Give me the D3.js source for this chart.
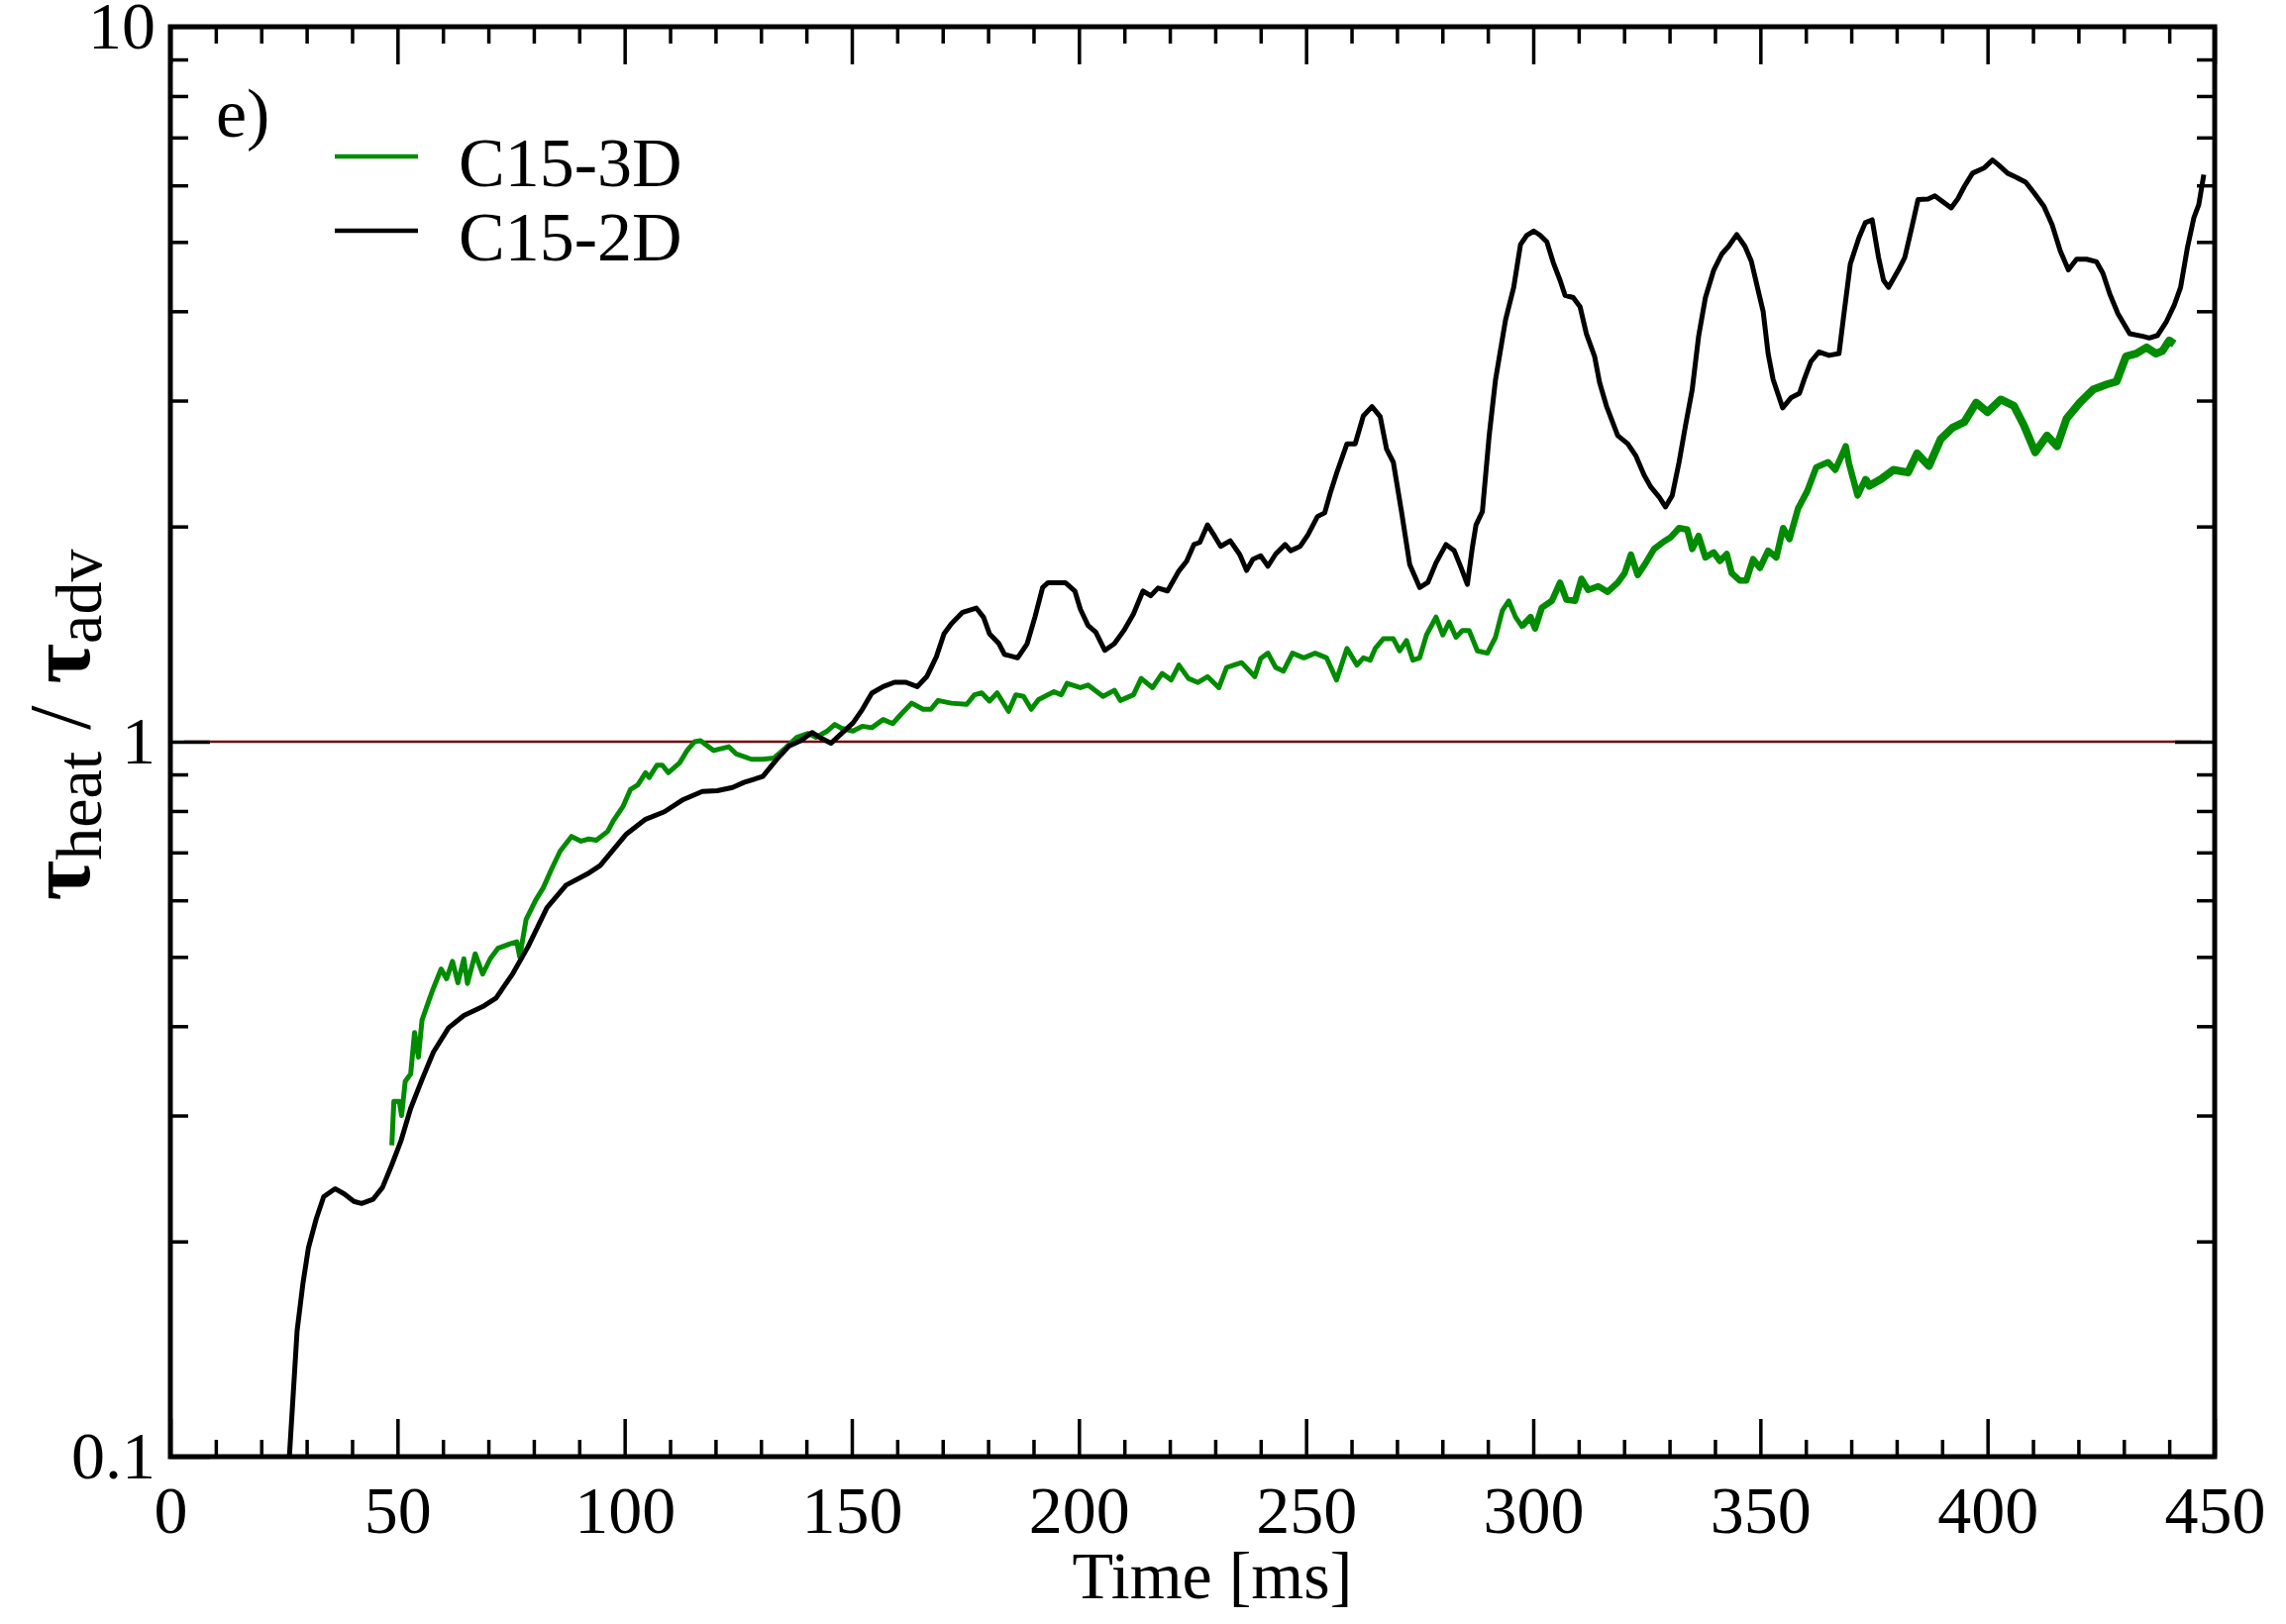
<!DOCTYPE html>
<html>
<head>
<meta charset="utf-8">
<script src="https://cdn.jsdelivr.net/npm/d3@7"></script>
<style>
  body { margin: 0; background: #fff; }
  svg text { font-family: "Liberation Serif", "Times New Roman", serif; fill: #000; }
</style>
</head>
<body>
<div id="chart"></div>
<script>
// tau_heat / tau_adv vs time, C15 models

// C15-2D (black)
const time2D = [26.2, 27.9, 29.2, 30.4, 32.1, 33.75, 36.25, 38.3, 40.4, 42.1, 44.6, 46.7, 48.75, 50.8, 52.9, 55.4, 57.9, 61.25, 64.6, 68.75,
  71.7, 75.4, 78.75, 82.9, 87.1, 92.1, 94.6, 100.4, 104.6, 108.75, 112.9, 117.1, 120.4, 123.75, 126.25, 130.4, 133.75, 136.25, 138.75, 141.25,
  143.3, 145.4, 147.75, 150.25, 152.3, 154.4, 156.9, 159.4, 161.9, 164.4, 166.5, 168.6, 170.3, 171.9, 174.4, 177.4, 179.0, 180.3, 182.4, 183.6,
  186.5, 188.6, 190.3, 192.0, 193.2, 197.0, 199.1, 200.3, 202.0, 203.7, 205.7, 207.8, 209.9, 212.0, 214.1, 215.8, 217.4, 219.5, 222.0, 223.7,
  225.3, 226.6, 228.3, 229.9, 231.2, 233.3, 235.4, 236.9, 238.3, 240.0, 241.6, 243.3, 245.4, 246.6, 248.7, 250.4, 252.5, 254.1, 255.4, 256.8,
  259.0, 260.8, 262.6, 264.5, 266.3, 267.7, 269.2, 271.0, 272.8, 275.0, 276.8, 278.6, 280.8, 282.6, 284.1, 285.5, 286.6, 287.4, 288.8, 290.3,
  291.7, 293.9, 295.7, 297.2, 298.6, 300.1, 301.5, 303.0, 304.4, 305.9, 307.0, 308.8, 310.3, 311.7, 313.5, 314.6, 316.1, 318.6, 320.8, 322.6,
  324.4, 325.9, 327.7, 329.1, 330.6, 332.1, 333.5, 335.0, 336.4, 337.9, 339.7, 341.5, 343.0, 344.8, 346.6, 348.0, 349.5, 350.6, 351.7, 352.8,
  354.9, 356.8, 358.6, 359.7, 361.1, 362.9, 365.1, 367.3, 368.4, 369.8, 371.7, 373.1, 374.6, 376.0, 377.1, 378.2, 380.4, 381.8, 383.3, 384.7,
  386.9, 388.4, 389.5, 392.0, 393.5, 394.9, 396.7, 399.3, 401.1, 402.5, 404.4, 406.5, 408.4, 410.2, 412.4, 414.2, 416.0, 417.8, 419.6, 421.8,
  424.0, 425.4, 426.9, 428.7, 431.3, 434.2, 435.6, 437.4, 439.3, 441.1, 442.5, 444.0, 445.4, 446.5, 447.6];
const ratio2D = [0.1, 0.150, 0.175, 0.196, 0.215, 0.231, 0.237, 0.233, 0.2275, 0.226, 0.229, 0.238, 0.256, 0.277, 0.307, 0.337, 0.368, 0.398, 0.414, 0.426,
  0.438, 0.474, 0.517, 0.586, 0.630, 0.655, 0.671, 0.743, 0.779, 0.798, 0.830, 0.852, 0.854, 0.863, 0.877, 0.894, 0.949, 0.987, 1.003, 1.03,
  1.011, 0.995, 1.027, 1.062, 1.109, 1.169, 1.194, 1.211, 1.211, 1.194, 1.233, 1.314, 1.416, 1.462, 1.517, 1.538, 1.493, 1.416, 1.371, 1.325,
  1.310, 1.371, 1.493, 1.643, 1.669, 1.669, 1.625, 1.533, 1.454, 1.423, 1.342, 1.371, 1.431, 1.509, 1.625, 1.600, 1.64, 1.625, 1.733, 1.788,
  1.887, 1.90, 2.01, 1.937, 1.876, 1.91, 1.827, 1.736, 1.80, 1.82, 1.76, 1.83, 1.887, 1.85, 1.876, 1.947, 2.065, 2.09, 2.236, 2.383,
  2.61, 2.61, 2.856, 2.942, 2.85, 2.568, 2.46, 2.098, 1.77, 1.643, 1.67, 1.779, 1.887, 1.85, 1.752, 1.66, 1.87, 2.01, 2.098, 2.68,
  3.21, 3.89, 4.32, 4.96, 5.11, 5.18, 5.11, 5.0, 4.68, 4.42, 4.21, 4.18, 4.06, 3.72, 3.46, 3.18, 2.95, 2.68, 2.61, 2.51,
  2.36, 2.27, 2.2, 2.13, 2.21, 2.46, 2.765, 3.11, 3.69, 4.18, 4.56, 4.81, 4.93, 5.12, 4.93, 4.7, 4.28, 4.0, 3.49, 3.21,
  2.93, 3.03, 3.07, 3.22, 3.40, 3.51, 3.47, 3.49, 3.97, 4.66, 5.07, 5.32, 5.37, 4.76, 4.42, 4.32, 4.57, 4.76, 5.23, 5.73,
  5.74, 5.80, 5.73, 5.58, 5.75, 5.98, 6.24, 6.35, 6.51, 6.4, 6.24, 6.15, 6.06, 5.86, 5.61, 5.29, 4.86, 4.57, 4.73, 4.73,
  4.69, 4.52, 4.23, 3.97, 3.72, 3.69, 3.67, 3.70, 3.86, 4.08, 4.32, 4.91, 5.4, 5.64, 6.21];

// C15-3D (green)
const time3D = [48.75, 49.2, 50.4, 50.9, 51.7, 52.9, 53.75, 54.6, 55.4, 57.1, 57.9, 59.6, 60.8, 62.1, 63.3, 64.6, 65.4, 67.1, 68.75, 70.4,
  72.1, 74.6, 76.25, 76.9, 78.3, 80.4, 82.1, 83.75, 85.8, 88.3, 90.4, 92.1, 93.75, 96.25, 97.5, 99.6, 101.25, 102.9, 104.6, 105.4,
  107.1, 108.3, 109.6, 112.1, 113.75, 115.4, 116.7, 119.6, 122.9, 124.6, 127.9, 130.4, 132.9, 135.4, 137.9, 140.4, 142.1, 144.6, 146.25, 147.75,
  150.25, 152.3, 154.4, 156.9, 159.0, 161.1, 163.2, 165.7, 167.4, 169.0, 171.9, 175.3, 177.0, 178.6, 180.3, 182.0, 184.5, 186.1, 187.8, 189.5,
  191.1, 194.5, 196.1, 197.4, 200.3, 202.0, 205.3, 207.8, 209.1, 212.0, 213.7, 216.2, 218.3, 220.3, 222.0, 224.1, 226.2, 228.3, 230.8, 232.5,
  234.1, 235.8, 238.7, 240.0, 241.6, 243.3, 245.0, 247.0, 249.5, 252.0, 254.5, 256.7, 259.0, 261.2, 262.6, 264.1, 265.2, 267.0, 269.2, 270.6,
  272.1, 273.5, 275.0, 276.5, 278.6, 280.1, 281.5, 283.0, 284.4, 285.9, 287.7, 289.9, 291.7, 293.2, 294.6, 296.1, 297.5, 299.4, 300.4, 301.9,
  304.1, 305.9, 307.3, 309.2, 310.6, 312.1, 314.3, 316.4, 318.6, 320.1, 321.5, 323.0, 324.8, 326.6, 328.8, 330.2, 332.1, 333.9, 335.0, 336.4,
  337.9, 339.7, 341.1, 342.6, 343.7, 345.5, 346.9, 348.4, 349.9, 351.7, 353.5, 355.0, 356.4, 358.3, 360.3, 362.3, 364.9, 366.5, 368.8, 369.5,
  371.4, 373.1, 374.0, 376.6, 379.3, 382.5, 384.5, 387.1, 389.7, 392.3, 394.9, 397.5, 400.0, 402.9, 405.8, 408.0, 410.5, 413.1, 415.3, 417.4,
  420.3, 423.3, 426.2, 428.4, 430.5, 432.7, 435.0, 437.1, 438.5, 440.0, 441.1];
const ratio3D = [0.2725, 0.314, 0.314, 0.30, 0.335, 0.343, 0.392, 0.362, 0.408, 0.438, 0.452, 0.481, 0.466, 0.493, 0.46, 0.497, 0.459, 0.505, 0.473, 0.497,
  0.514, 0.521, 0.525, 0.500, 0.564, 0.600, 0.625, 0.660, 0.703, 0.737, 0.726, 0.731, 0.728, 0.749, 0.775, 0.811, 0.857, 0.870, 0.905, 0.891,
  0.927, 0.927, 0.905, 0.934, 0.972, 1.0, 1.003, 0.972, 0.984, 0.961, 0.945, 0.945, 0.949, 0.980, 1.014, 1.027, 1.014, 1.035, 1.057, 1.044,
  1.035, 1.051, 1.046, 1.074, 1.06, 1.097, 1.132, 1.11, 1.11, 1.142, 1.132, 1.128, 1.163, 1.17, 1.14, 1.17, 1.103, 1.163, 1.157, 1.11,
  1.145, 1.175, 1.163, 1.207, 1.19, 1.20, 1.157, 1.18, 1.142, 1.163, 1.226, 1.19, 1.246, 1.22, 1.28, 1.226, 1.21, 1.233, 1.19, 1.27,
  1.28, 1.29, 1.233, 1.307, 1.33, 1.27, 1.255, 1.33, 1.31, 1.33, 1.31, 1.22, 1.35, 1.28, 1.31, 1.30, 1.35, 1.393, 1.393, 1.34,
  1.385, 1.30, 1.31, 1.41, 1.494, 1.41, 1.47, 1.40, 1.43, 1.43, 1.34, 1.33, 1.40, 1.525, 1.574, 1.494, 1.45, 1.494, 1.44, 1.54,
  1.574, 1.669, 1.58, 1.574, 1.69, 1.63, 1.65, 1.62, 1.669, 1.72, 1.827, 1.71, 1.78, 1.86, 1.906, 1.93, 1.99, 1.98, 1.86, 1.94,
  1.81, 1.84, 1.79, 1.83, 1.72, 1.68, 1.68, 1.80, 1.75, 1.85, 1.81, 1.99, 1.92, 2.12, 2.24, 2.42, 2.46, 2.40, 2.59, 2.45,
  2.21, 2.33, 2.28, 2.33, 2.40, 2.38, 2.53, 2.43, 2.65, 2.75, 2.80, 2.98, 2.89, 3.01, 2.95, 2.77, 2.54, 2.68, 2.59, 2.83,
  2.98, 3.11, 3.16, 3.19, 3.46, 3.49, 3.56, 3.49, 3.52, 3.64, 3.60];

// reference level tau_heat / tau_adv = 1
const refTime = [3, 447];
const refRatio = [1, 1];

// axis ticks
const xMajor = [0, 50, 100, 150, 200, 250, 300, 350, 400, 450];
const xMinor = d3.range(10, 450, 10).filter(v => v % 50 !== 0);
const yMajor = [0.1, 1, 10];
const yMinor = [0.2, 0.3, 0.4, 0.5, 0.6, 0.7, 0.8, 0.9, 2, 3, 4, 5, 6, 7, 8, 9];
const yTickLabels = {0.1: '0.1', 1: '1', 10: '10'};

const legendNames = ['C15-3D', 'C15-2D'];
const legendColors = ['#008b00', '#000000'];

const width = 2308, height = 1640;
const plotLeft = 172, plotRight = 2236, plotTop = 27, plotBottom = 1471;

// the 3D curve gets noisier (visually thicker) late in the run
const greenPieces = [[48, 300, 5], [300, 375, 6.5], [375, 442, 8]];

const svg = d3.select('#chart').append('svg')
    .attr('width', width)
    .attr('height', height);

const x = d3.scaleLinear().domain([0, 450]).range([plotLeft, plotRight]);
const y = d3.scaleLog().domain([0.1, 10]).range([plotBottom, plotTop]);

svg.append('clipPath').attr('id', 'plot-clip')
  .append('rect')
    .attr('x', plotLeft).attr('y', plotTop)
    .attr('width', plotRight - plotLeft).attr('height', plotBottom - plotTop);

const plot = svg.append('g').attr('clip-path', 'url(#plot-clip)');

const line = d3.line()
    .x(d => x(d[0]))
    .y(d => y(d[1]));

// reference line at 1
plot.append('path')
    .datum(refTime.map((t, i) => [t, refRatio[i]]))
    .attr('d', line)
    .attr('fill', 'none')
    .attr('stroke', '#6e0a0a')
    .attr('stroke-width', 2.5);

const pts3D = time3D.map((t, i) => [t, ratio3D[i]]);
greenPieces.forEach(([t0, t1, w]) => {
    plot.append('path')
        .datum(pts3D.filter(d => d[0] >= t0 - 3 && d[0] <= t1 + 3))
        .attr('d', line)
        .attr('fill', 'none')
        .attr('stroke', legendColors[0])
        .attr('stroke-width', w)
        .attr('stroke-linejoin', 'round');
});

plot.append('path')
    .datum(time2D.map((t, i) => [t, ratio2D[i]]))
    .attr('d', line)
    .attr('fill', 'none')
    .attr('stroke', legendColors[1])
    .attr('stroke-width', 5)
    .attr('stroke-linejoin', 'round');

// axes: ticks point inward on all four sides
function styleAxis(g) {
    g.select('.domain').remove();
    g.selectAll('.tick line').attr('stroke', '#000').attr('stroke-width', 3.5);
    g.selectAll('.tick text')
        .attr('font-family', '"Liberation Serif", serif')
        .attr('font-size', 68)
        .attr('fill', '#000');
}

svg.append('g').attr('transform', `translate(0,${plotBottom})`)
    .call(d3.axisBottom(x).tickValues(xMajor).tickSize(-38).tickPadding(29).tickFormat(d3.format('d')))
    .call(styleAxis);
svg.append('g').attr('transform', `translate(0,${plotBottom})`)
    .call(d3.axisBottom(x).tickValues(xMinor).tickSize(-17).tickFormat(''))
    .call(styleAxis);
svg.append('g').attr('transform', `translate(0,${plotTop})`)
    .call(d3.axisTop(x).tickValues(xMajor).tickSize(-38).tickFormat(''))
    .call(styleAxis);
svg.append('g').attr('transform', `translate(0,${plotTop})`)
    .call(d3.axisTop(x).tickValues(xMinor).tickSize(-17).tickFormat(''))
    .call(styleAxis);

svg.append('g').attr('transform', `translate(${plotLeft},0)`)
    .call(d3.axisLeft(y).tickValues(yMajor).tickSize(-40).tickPadding(15).tickFormat(d => yTickLabels[d]))
    .call(styleAxis);
svg.append('g').attr('transform', `translate(${plotLeft},0)`)
    .call(d3.axisLeft(y).tickValues(yMinor).tickSize(-18).tickFormat(''))
    .call(styleAxis);
svg.append('g').attr('transform', `translate(${plotRight},0)`)
    .call(d3.axisRight(y).tickValues(yMajor).tickSize(-40).tickFormat(''))
    .call(styleAxis);
svg.append('g').attr('transform', `translate(${plotRight},0)`)
    .call(d3.axisRight(y).tickValues(yMinor).tickSize(-18).tickFormat(''))
    .call(styleAxis);

// frame
svg.append('rect')
    .attr('x', plotLeft).attr('y', plotTop)
    .attr('width', plotRight - plotLeft).attr('height', plotBottom - plotTop)
    .attr('fill', 'none')
    .attr('stroke', '#000')
    .attr('stroke-width', 5);

// axis titles
svg.append('text')
    .attr('x', 1224).attr('y', 1614)
    .attr('text-anchor', 'middle')
    .attr('font-size', 68)
    .text('Time [ms]');

const ylab = svg.append('text')
    .attr('transform', 'translate(90,732) rotate(-90)')
    .attr('text-anchor', 'middle')
    .attr('font-size', 88);
ylab.append('tspan').attr('font-weight', 'bold').text('τ');
ylab.append('tspan').attr('font-size', 66).attr('dy', 12).text('heat');
ylab.append('tspan').attr('dy', -12).text(' / ');
ylab.append('tspan').attr('font-weight', 'bold').text('τ');
ylab.append('tspan').attr('font-size', 66).attr('dy', 12).text('adv');

// panel label
svg.append('text')
    .attr('x', 218).attr('y', 138)
    .attr('font-size', 70)
    .text('e)');

// legend
const legend = svg.append('g');
legendNames.forEach((name, i) => {
    const ly = 158 + i * 75;
    legend.append('line')
        .attr('x1', 338).attr('x2', 422)
        .attr('y1', ly).attr('y2', ly)
        .attr('stroke', legendColors[i])
        .attr('stroke-width', 4.5);
    legend.append('text')
        .attr('x', 463).attr('y', ly + 30)
        .attr('font-size', 70)
        .text(name);
});
</script>
</body>
</html>
